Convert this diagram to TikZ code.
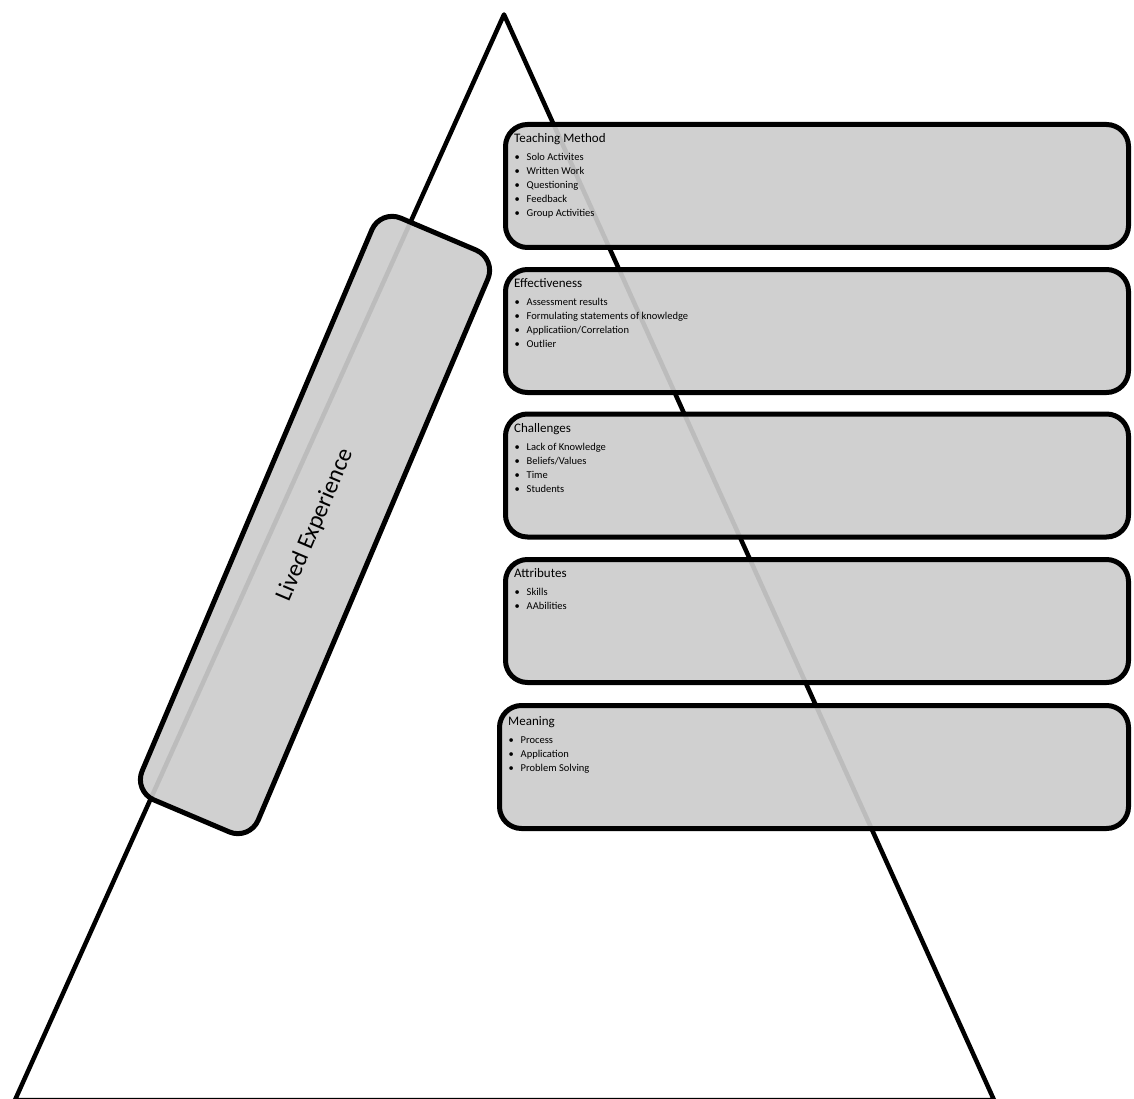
\documentclass[tikz,border=0pt]{standalone}
\usepackage{fontspec}
\setmainfont{Carlito}
\usetikzlibrary{positioning}
\definecolor{boxgray}{RGB}{204,204,204}
\tikzset{
  panel/.style={draw, line width=5pt, rounded corners=22pt, fill=boxgray,
    fill opacity=0.92, text opacity=1, inner sep=0pt,
    minimum width=623pt, minimum height=123pt},
  head/.style={anchor=base west, inner sep=0pt, font=\fontsize{13}{15}\selectfont},
  item/.style={anchor=base west, inner sep=0pt, font=\fontsize{10.5}{14}\selectfont},
}
\newcommand{\bul}[1]{\makebox[12pt][l]{\textbullet}#1}
\begin{document}
\begin{tikzpicture}[x=1pt,y=-1pt]
\useasboundingbox (0,0) rectangle (1134,1099);
\coordinate (apex) at (504,14.5);
\coordinate (bl) at (15,1100);
\coordinate (br) at (994,1100);
\draw [line width=4.5pt, line join=round] (apex) -- (bl) -- (br) -- cycle;
%
\node [panel, minimum width=632pt, minimum height=126pt, rotate=67,
  font=\fontsize{24}{28}\selectfont] (lived) at (315,525) {Lived Experience};
%
\node [panel] (p1) at (817,186) {};
\node [panel] (p2) at (817,331) {};
\node [panel] (p3) at (817,475.5) {};
\node [panel] (p4) at (817,621) {};
\node [panel, minimum width=629pt] (p5) at (814,767) {};
%
\node [head] (h1) at (514,142.5) {Teaching Method};
\node [head] (h2) at (514,287.5) {Effectiveness};
\node [head] (h3) at (514,432.5) {Challenges};
\node [head] (h4) at (514,577.5) {Attributes};
\node [head] (h5) at (508,725.5) {Meaning};
%
\foreach \t [count=\n] in {Solo Activites, Written Work, Questioning, Feedback, Group Activities}
  \node [item] (i1-\n) at (514.5,146.5+14*\n) {\bul{\t}};
\foreach \t [count=\n] in {Assessment results, Formulating statements of knowledge, Applicatiion/Correlation, Outlier}
  \node [item] (i2-\n) at (514.5,291.5+14*\n) {\bul{\t}};
\foreach \t [count=\n] in {Lack of Knowledge, Beliefs/Values, Time, Students}
  \node [item] (i3-\n) at (514.5,436.5+14*\n) {\bul{\t}};
\foreach \t [count=\n] in {Skills, AAbilities}
  \node [item] (i4-\n) at (514.5,581.5+14*\n) {\bul{\t}};
\foreach \t [count=\n] in {Process, Application, Problem Solving}
  \node [item] (i5-\n) at (508.5,729.5+14*\n) {\bul{\t}};
\end{tikzpicture}
\end{document}
